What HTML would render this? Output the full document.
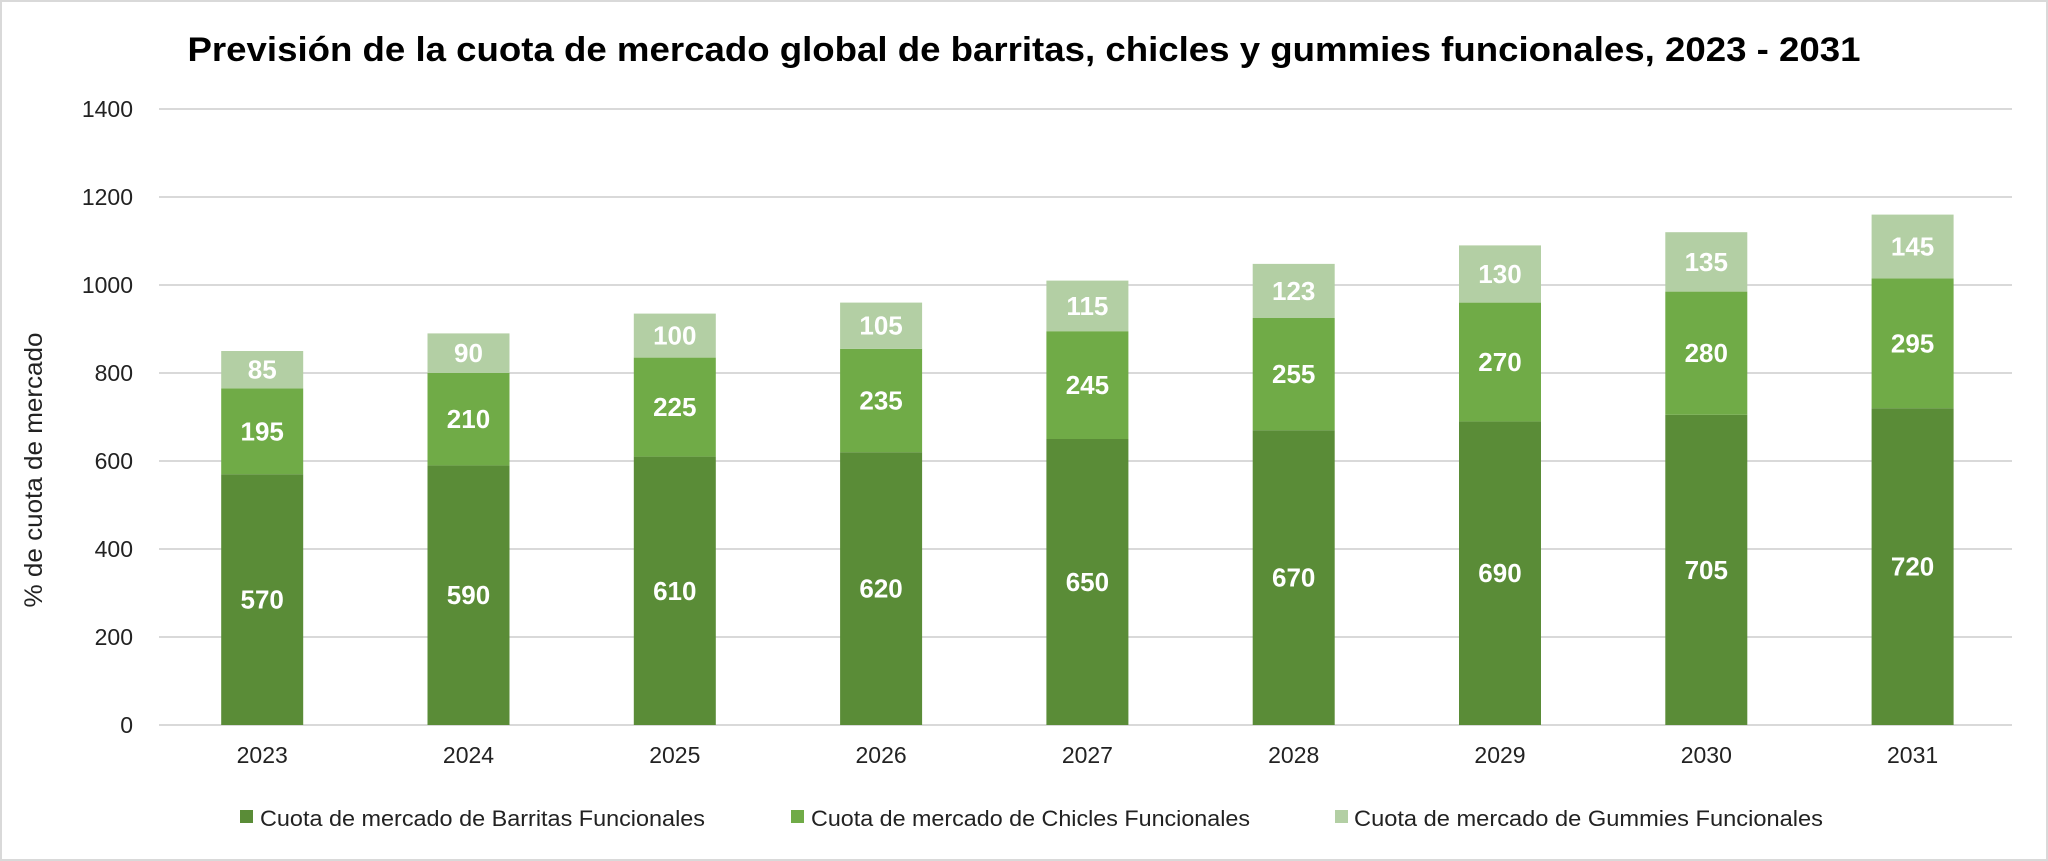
<!DOCTYPE html>
<html><head><meta charset="utf-8"><style>
html,body{margin:0;padding:0;background:#fff}
svg{display:block}
text{font-family:"Liberation Sans",sans-serif}
</style></head><body>
<svg width="2048" height="861" viewBox="0 0 2048 861" xmlns="http://www.w3.org/2000/svg">
<rect x="1" y="1" width="2046" height="859" fill="#fff" stroke="#d9d9d9" stroke-width="2"/>
<text x="1024" y="61" text-anchor="middle" font-size="34" font-weight="bold" fill="#000" textLength="1673" lengthAdjust="spacingAndGlyphs">Previsión de la cuota de mercado global de barritas, chicles y gummies funcionales, 2023 - 2031</text>
<g stroke="#d9d9d9" stroke-width="2">
<line x1="159" x2="2012" y1="109" y2="109"/>
<line x1="159" x2="2012" y1="197" y2="197"/>
<line x1="159" x2="2012" y1="285" y2="285"/>
<line x1="159" x2="2012" y1="373" y2="373"/>
<line x1="159" x2="2012" y1="461" y2="461"/>
<line x1="159" x2="2012" y1="549" y2="549"/>
<line x1="159" x2="2012" y1="637" y2="637"/>
<line x1="159" x2="2012" y1="725" y2="725"/>
</g>
<g font-size="23" fill="#222" text-anchor="end">
<text x="133" y="117">1400</text>
<text x="133" y="205">1200</text>
<text x="133" y="293">1000</text>
<text x="133" y="381">800</text>
<text x="133" y="469">600</text>
<text x="133" y="557">400</text>
<text x="133" y="645">200</text>
<text x="133" y="733">0</text>
</g>
<text transform="translate(42,470) rotate(-90)" text-anchor="middle" font-size="25" fill="#222" textLength="275" lengthAdjust="spacingAndGlyphs">% de cuota de mercado</text>
<g id="bars"></g>
<g font-size="23" fill="#222" text-anchor="middle" id="xl"></g>
<g font-size="22" fill="#222">
<rect x="240" y="810" width="13" height="13" fill="#5a8c37"/>
<text x="260" y="826" textLength="445" lengthAdjust="spacingAndGlyphs">Cuota de mercado de Barritas Funcionales</text>
<rect x="791" y="810" width="13" height="13" fill="#70ab47"/>
<text x="811" y="826" textLength="439" lengthAdjust="spacingAndGlyphs">Cuota de mercado de Chicles Funcionales</text>
<rect x="1335" y="810" width="13" height="13" fill="#b3cfa4"/>
<text x="1354" y="826" textLength="469" lengthAdjust="spacingAndGlyphs">Cuota de mercado de Gummies Funcionales</text>
</g>
</svg>
<script>
var b=[570,590,610,620,650,670,690,705,720],c=[195,210,225,235,245,255,270,280,295],g=[85,90,100,105,115,123,130,135,145];
var s=616/1400,ns="http://www.w3.org/2000/svg",G=document.getElementById("bars"),X=document.getElementById("xl");
function el(t,a,p,tx){var e=document.createElementNS(ns,t);for(var k in a)e.setAttribute(k,a[k]);if(tx!=null)e.textContent=tx;p.appendChild(e);return e;}
for(var i=0;i<9;i++){var cx=159+103.2+i*206.3,x=cx-41,w=82,y0=725;
[[b[i],"#5a8c37"],[c[i],"#70ab47"],[g[i],"#b3cfa4"]].forEach(function(p){var h=p[0]*s;el("rect",{x:x,y:y0-h,width:w,height:h,fill:p[1]},G);
el("text",{x:cx,y:y0-h/2+9,"text-anchor":"middle","font-size":"26","font-weight":"bold",fill:"#fff"},G,p[0]);y0-=h;});
el("text",{x:cx,y:763},X,2023+i);}
</script>
</body></html>
